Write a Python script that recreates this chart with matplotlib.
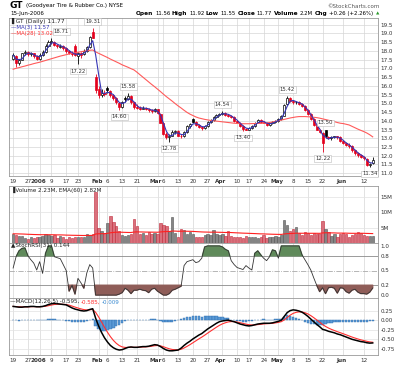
import numpy as np
import pandas as pd
import matplotlib.pyplot as plt
from matplotlib.transforms import ScaledTranslation

# daily OHLC for GT, 19-Dec-2005 .. 15-Jun-2006 (123 trading days)
opens = [17.55, 17.70, 17.30, 17.50, 17.85, 17.95, 17.80, 17.85, 17.70, 17.55,
         17.75, 17.95, 18.30, 18.50, 18.50, 18.35, 18.20, 18.30, 18.15, 18.00,
         17.90, 18.30, 17.70, 17.85, 17.80, 18.00, 18.20, 19.10, 16.50, 15.80,
         15.50, 15.60, 15.90, 15.70, 15.45, 15.30, 15.00, 14.80, 15.30, 15.25,
         15.40, 15.05, 14.80, 14.75, 14.70, 14.75, 14.70, 14.60, 14.55, 14.65,
         14.40, 13.90, 13.25, 13.05, 13.15, 13.35, 13.40, 13.15, 13.10, 13.35,
         13.70, 14.10, 13.95, 13.75, 13.65, 13.60, 13.70, 13.95, 14.05, 14.20,
         14.35, 14.40, 14.45, 14.35, 14.30, 14.20, 14.00, 13.90, 13.70, 13.55,
         13.50, 13.60, 13.70, 13.95, 14.05, 13.95, 13.90, 13.75, 13.85, 13.95,
         14.00, 14.10, 14.30, 14.95, 15.30, 15.15, 15.05, 15.10, 14.95, 14.85,
         14.60, 14.40, 14.10, 13.75, 13.50, 13.30, 13.45, 13.10, 13.00, 13.05,
         13.10, 13.05, 12.85, 12.75, 12.60, 12.55, 12.30, 12.15, 12.05, 11.95,
         11.80, 11.45, 11.56]
highs = [17.85, 17.75, 17.55, 17.90, 18.05, 18.00, 17.95, 17.90, 17.75, 17.85,
         18.05, 18.40, 18.60, 18.71, 18.55, 18.40, 18.40, 18.35, 18.20, 18.05,
         18.00, 18.40, 17.95, 17.95, 18.10, 18.30, 18.85, 19.31, 16.70, 16.00,
         15.80, 15.75, 16.00, 15.75, 15.50, 15.35, 15.05, 15.15, 15.40, 15.58,
         15.45, 15.10, 14.95, 14.85, 14.85, 14.80, 14.75, 14.70, 14.75, 14.70,
         14.45, 13.95, 13.35, 13.25, 13.45, 13.45, 13.45, 13.25, 13.40, 13.75,
         13.85, 14.15, 14.00, 13.80, 13.70, 13.75, 14.00, 14.10, 14.25, 14.40,
         14.45, 14.54, 14.50, 14.40, 14.35, 14.25, 14.05, 13.95, 13.75, 13.60,
         13.65, 13.75, 13.95, 14.10, 14.10, 14.00, 13.95, 13.90, 14.00, 14.05,
         14.15, 14.35, 14.95, 15.42, 15.35, 15.20, 15.15, 15.15, 15.00, 14.90,
         14.65, 14.45, 14.15, 13.80, 13.55, 13.35, 13.50, 13.15, 13.10, 13.15,
         13.15, 13.10, 12.90, 12.80, 12.70, 12.60, 12.35, 12.20, 12.10, 12.00,
         11.85, 11.60, 11.92]
lows = [17.45, 17.10, 17.20, 17.45, 17.75, 17.70, 17.70, 17.60, 17.45, 17.50,
        17.70, 17.90, 18.20, 18.40, 18.25, 18.15, 18.15, 18.05, 17.90, 17.80,
        17.70, 17.70, 17.22, 17.60, 17.75, 17.95, 18.15, 18.75, 15.60, 15.30,
        15.35, 15.40, 15.60, 15.35, 15.20, 14.95, 14.60, 14.75, 15.05, 15.20,
        14.95, 14.70, 14.65, 14.60, 14.65, 14.60, 14.50, 14.45, 14.50, 14.40,
        13.85, 13.20, 12.95, 12.78, 13.10, 13.25, 13.10, 13.00, 13.05, 13.30,
        13.60, 13.85, 13.70, 13.60, 13.50, 13.55, 13.65, 13.90, 14.00, 14.15,
        14.30, 14.35, 14.30, 14.20, 14.15, 13.95, 13.85, 13.65, 13.40, 13.45,
        13.45, 13.55, 13.65, 13.90, 13.90, 13.85, 13.70, 13.70, 13.80, 13.90,
        13.95, 14.05, 14.25, 14.90, 15.05, 14.95, 14.95, 14.90, 14.80, 14.55,
        14.35, 14.05, 13.70, 13.45, 13.30, 12.22, 13.00, 12.95, 12.90, 13.00,
        12.95, 12.80, 12.65, 12.55, 12.45, 12.20, 12.05, 11.95, 11.85, 11.75,
        11.40, 11.34, 11.55]
closes = [17.75, 17.30, 17.45, 17.85, 17.95, 17.80, 17.85, 17.70, 17.55, 17.75,
          17.95, 18.30, 18.50, 18.55, 18.35, 18.25, 18.30, 18.15, 18.00, 17.90,
          17.80, 17.75, 17.85, 17.75, 18.00, 18.20, 18.80, 18.75, 15.75, 15.50,
          15.60, 15.55, 15.75, 15.45, 15.30, 15.05, 14.80, 15.10, 15.25, 15.40,
          15.05, 14.80, 14.75, 14.70, 14.75, 14.70, 14.60, 14.55, 14.65, 14.45,
          13.90, 13.25, 13.05, 13.10, 13.35, 13.40, 13.15, 13.10, 13.35, 13.70,
          13.80, 13.95, 13.75, 13.65, 13.60, 13.70, 13.95, 14.05, 14.20, 14.35,
          14.40, 14.45, 14.35, 14.30, 14.20, 14.00, 13.90, 13.70, 13.55, 13.50,
          13.60, 13.70, 13.90, 14.05, 13.95, 13.90, 13.75, 13.85, 13.95, 14.00,
          14.10, 14.30, 14.90, 15.30, 15.15, 15.05, 15.10, 14.95, 14.85, 14.60,
          14.40, 14.10, 13.75, 13.50, 13.35, 12.75, 13.10, 13.00, 13.05, 13.10,
          13.05, 12.85, 12.75, 12.60, 12.55, 12.30, 12.15, 12.05, 11.95, 11.85,
          11.45, 11.51, 11.77]
ma28 = [16.95, 17.00, 17.04, 17.09, 17.13, 17.18, 17.22, 17.27, 17.31, 17.35,
        17.40, 17.45, 17.50, 17.55, 17.60, 17.65, 17.70, 17.74, 17.78, 17.82,
        17.86, 17.89, 17.92, 17.95, 17.98, 18.00, 18.03, 18.05, 17.94, 17.86,
        17.78, 17.70, 17.62, 17.53, 17.45, 17.37, 17.29, 17.20, 17.13, 17.06,
        16.98, 16.91, 16.78, 16.64, 16.50, 16.36, 16.22, 16.08, 15.95, 15.81,
        15.67, 15.52, 15.38, 15.25, 15.12, 14.98, 14.85, 14.73, 14.60, 14.48,
        14.38, 14.30, 14.22, 14.16, 14.12, 14.08, 14.05, 14.02, 14.00, 13.98,
        13.96, 13.94, 13.92, 13.90, 13.88, 13.86, 13.85, 13.84, 13.83, 13.83,
        13.83, 13.84, 13.84, 13.85, 13.85, 13.86, 13.87, 13.90, 13.93, 13.97,
        14.00, 14.04, 14.08, 14.12, 14.16, 14.19, 14.22, 14.24, 14.24, 14.24,
        14.23, 14.22, 14.20, 14.18, 14.15, 14.11, 14.07, 14.03, 13.99, 13.95,
        13.90, 13.86, 13.84, 13.80, 13.76, 13.68, 13.60, 13.52, 13.45, 13.38,
        13.30, 13.20, 13.08]
volume = [3.0, 2.6, 2.2, 2.3, 1.7, 1.3, 1.8, 1.5, 2.0, 1.9,
          2.3, 3.0, 2.6, 2.2, 2.5, 1.6, 2.4, 1.9, 1.2, 2.0,
          1.6, 2.0, 2.1, 1.8, 1.9, 2.8, 2.6, 3.0, 16.5, 5.0,
          3.8, 3.2, 6.5, 8.7, 7.0, 5.5, 4.0, 2.6, 2.4, 2.5,
          3.0, 7.8, 5.5, 2.8, 3.2, 2.6, 3.5, 3.0, 3.2, 3.1,
          6.5, 5.9, 5.5, 3.9, 8.5, 3.3, 2.0, 4.6, 4.3, 2.8,
          3.5, 2.8, 2.0, 1.8, 2.0, 2.5, 3.0, 2.6, 4.2, 2.9,
          2.6, 2.8, 2.3, 4.0, 2.2, 1.8, 1.9, 2.0, 1.7, 2.4,
          2.1, 1.9, 2.0, 1.5, 1.8, 2.5, 1.6, 2.0, 1.8, 2.2,
          2.1, 2.5, 7.5, 6.0, 4.0, 4.5, 5.2, 3.2, 2.5, 3.5,
          3.2, 2.5, 3.3, 3.0, 2.8, 7.2, 4.7, 3.5, 2.2, 3.0,
          1.8, 2.8, 3.3, 2.9, 2.0, 2.6, 3.1, 3.6, 3.4, 2.5,
          2.2, 2.3, 2.23]
stoch_rsi = [0.55, 0.78, 0.90, 0.95, 0.96, 0.80, 0.72, 0.65, 0.51, 0.68,
             0.44, 0.85, 1.00, 1.00, 0.78, 0.76, 0.74, 0.62, 0.50, 0.08,
             0.20, 0.02, 0.34, 0.25, 0.14, 0.45, 0.62, 0.55, 0.00, 0.00,
             0.00, 0.00, 0.00, 0.00, 0.00, 0.00, 0.02, 0.05, 0.14, 0.10,
             0.03, 0.10, 0.10, 0.12, 0.10, 0.09, 0.05, 0.12, 0.14, 0.08,
             0.04, 0.00, 0.00, 0.03, 0.10, 0.12, 0.15, 0.18, 0.60, 0.68,
             0.70, 0.72, 0.66, 0.68, 0.75, 0.98, 1.00, 1.00, 1.00, 1.00,
             1.00, 0.98, 0.93, 0.90, 0.70, 0.62, 0.56, 0.54, 0.52, 0.60,
             0.55, 0.51, 0.85, 0.90, 0.82, 0.75, 0.70, 0.78, 0.92, 0.90,
             0.75, 1.00, 1.00, 1.00, 1.00, 1.00, 1.00, 1.00, 0.82, 0.72,
             0.62, 0.51, 0.35, 0.20, 0.07, 0.15, 0.03, 0.15, 0.16, 0.14,
             0.04, 0.15, 0.14, 0.07, 0.04, 0.10, 0.12, 0.06, 0.03, 0.03,
             0.02, 0.06, 0.144]
macd = [0.36, 0.35, 0.34, 0.34, 0.35, 0.35, 0.36, 0.36, 0.35, 0.35,
        0.36, 0.38, 0.41, 0.43, 0.44, 0.43, 0.42, 0.41, 0.40, 0.36,
        0.32, 0.29, 0.27, 0.25, 0.24, 0.25, 0.28, 0.30, 0.05, -0.15,
        -0.32, -0.46, -0.57, -0.66, -0.72, -0.76, -0.78, -0.77, -0.74, -0.71,
        -0.70, -0.71, -0.71, -0.70, -0.69, -0.69, -0.68, -0.66, -0.64, -0.65,
        -0.69, -0.74, -0.78, -0.80, -0.80, -0.79, -0.78, -0.73, -0.66, -0.60,
        -0.55, -0.49, -0.44, -0.39, -0.35, -0.29, -0.23, -0.18, -0.13, -0.08,
        -0.04, -0.02, -0.01, 0.00, -0.02, -0.04, -0.07, -0.10, -0.12, -0.14,
        -0.15, -0.14, -0.12, -0.10, -0.09, -0.08, -0.08, -0.08, -0.07, -0.05,
        -0.03, 0.00, 0.10, 0.20, 0.25, 0.27, 0.26, 0.24, 0.21, 0.16,
        0.10, 0.03, -0.04, -0.11, -0.17, -0.24, -0.26, -0.29, -0.31, -0.33,
        -0.36, -0.38, -0.41, -0.44, -0.47, -0.50, -0.52, -0.54, -0.56, -0.57,
        -0.59, -0.60, -0.595]

tick_pos = [0, 5, 9, 13, 18, 22, 29, 32, 37, 42, 49, 51, 56, 61, 66, 71,
            76, 80, 85, 90, 95, 100, 105, 112, 119]
tick_lab = ['19', '27', '2006', '9', '17', '23', 'Feb', '6', '13', '21', 'Mar',
            '6', '13', '20', '27', 'Apr', '10', '17', '24', 'May', '8', '15',
            '22', 'Jun', '12']
bold_lab = ['2006', 'Feb', 'Mar', 'Apr', 'May', 'Jun']

# swing high / low labels on the price panel
swing_idx = [13, 22, 27, 36, 39, 53, 71, 78, 93, 106, 105, 121]
swing_val = [18.71, 17.22, 19.31, 14.60, 15.58, 12.78, 14.54, 13.40, 15.42, 13.50, 12.22, 11.34]
swing_top = [True, False, True, False, True, False, True, False, True, True, False, False]
swing_dx = [7, 0, 0, 0, 0, 0, 0, 0, 0, 0, 0, 0]

# indicators
x = np.arange(len(closes))
o = np.array(opens)
h = np.array(highs)
l = np.array(lows)
c = np.array(closes)
prev = np.r_[c[0], c[:-1]]
up = c >= prev
ma3 = pd.Series(c).rolling(3, min_periods=1).mean()
vol_ema = pd.Series(volume).ewm(span=60, adjust=False).mean()
signal = pd.Series(macd).ewm(span=5, adjust=False).mean()
hist = np.array(macd) - signal.values

RED = '#e4001c'
W, H = 400, 365
XL, XR = 9, 378
FS = 4.1


def box(top, bottom):
    return [XL / W, 1 - bottom / H, (XR - XL) / W, (bottom - top) / H]


fig = plt.figure(figsize=(4, 3.65), dpi=100)
ax_p = fig.add_axes(box(18, 176))
ax_v = fig.add_axes(box(186, 243))
ax_s = fig.add_axes(box(243, 298))
ax_m = fig.add_axes(box(298, 355))

shift_left = ScaledTranslation(-1.5 / 100, 0, fig.dpi_scale_trans)
for ax in [ax_p, ax_v, ax_s, ax_m]:
    ax.set_xlim(-1.4, 123.8)
    for sp in ax.spines.values():
        sp.set_color('#999999')
        sp.set_linewidth(0.6)
    ax.yaxis.tick_right()
    ax.tick_params(axis='y', length=0, labelsize=FS, pad=2, colors='#333333')
    ax.tick_params(axis='x', length=0, labelsize=FS, pad=2, colors='#333333')
    ax.set_xticks(tick_pos)
    ax.set_xticklabels(tick_lab)
    for t in ax.get_xticklabels():
        if t.get_text() in bold_lab:
            t.set_fontweight('bold')
            t.set_transform(t.get_transform() + shift_left)
    ax.grid(axis='x', color='#d6d6d6', lw=0.5)
    ax.set_axisbelow(True)

for ax in [ax_v, ax_s]:
    ax.tick_params(axis='x', labelbottom=False)

# ---- price panel
ax_p.set_ylim(10.84, 19.88)
ax_p.set_yticks(np.arange(11.0, 19.51, 0.5))
ax_p.set_yticklabels(['%.1f' % v for v in np.arange(11.0, 19.51, 0.5)])
ax_p.grid(axis='y', color='#d6d6d6', lw=0.5)
cols = np.where(up, 'black', RED)
faces = np.where(c > o, 'white', cols)
ax_p.vlines(x, l, h, colors=cols, lw=0.6, zorder=2)
ax_p.bar(x, np.maximum(np.abs(c - o), 0.04), bottom=np.minimum(o, c), width=0.7,
         color=faces, edgecolor=cols, lw=0.5, zorder=3)
ax_p.plot(x, ma28, color='#ff5a5a', lw=0.8, zorder=4)
ax_p.plot(x, ma3, color='#3535b5', lw=0.8, zorder=5)
for i, v, top, dx in zip(swing_idx, swing_val, swing_top, swing_dx):
    ax_p.annotate('%.2f' % v, (i, v), xytext=(dx, 3 if top else -3),
                  textcoords='offset points', ha='center',
                  va='bottom' if top else 'top', fontsize=3.9, color='#333333',
                  bbox=dict(boxstyle='square,pad=0.15', fc='white', ec='#bbbbbb', lw=0.4),
                  zorder=6)
ax_p.text(0.006, 0.983, '\u258cGT (Daily) 11.77', transform=ax_p.transAxes,
          fontsize=4.3, va='center', color='#222222')
ax_p.text(0.006, 0.941, '\u2014MA(3) 11.57', transform=ax_p.transAxes,
          fontsize=3.9, va='center', color='#3535b5')
ax_p.text(0.006, 0.903, '\u2014MA(28) 13.02', transform=ax_p.transAxes,
          fontsize=3.9, va='center', color='#ff3030')

# ---- volume panel
vcol = np.where(up, '#858585', '#d9707c')
vedge = np.where(up, '#555555', '#c02838')
ax_v.set_ylim(0, 18.6)
ax_v.set_yticks([5, 10, 15])
ax_v.set_yticklabels(['5M', '10M', '15M'])
ax_v.grid(axis='y', color='#e2e2e2', lw=0.5)
ax_v.bar(x, volume, width=0.8, color=vcol, edgecolor=vedge, lw=0.4, zorder=2)
ax_v.plot(x, vol_ema, color='#ff2020', lw=0.8, zorder=3)
ax_v.text(0.006, 0.93, '\u2590Volume 2.23M, EMA(60) 2.82M', transform=ax_v.transAxes,
          fontsize=FS, va='center', color='#222222')

# ---- StochRSI panel
sr = np.array(stoch_rsi)
ax_s.set_ylim(-0.06, 1.06)
ax_s.set_yticks([0.0, 0.2, 0.5, 0.8, 1.0])
ax_s.set_yticklabels(['0.0', '0.2', '0.5', '0.8', '1.0'])
ax_s.fill_between(x, sr, 0.8, where=sr > 0.8, interpolate=True, color='#5f8a5a', zorder=2)
ax_s.fill_between(x, sr, 0.2, where=sr < 0.2, interpolate=True, color='#8f5d58', zorder=2)
ax_s.axhline(0.8, color='#8a8a8a', lw=0.6, zorder=1)
ax_s.axhline(0.2, color='#8a8a8a', lw=0.6, zorder=1)
ax_s.axhline(0.5, color='#aaaaaa', lw=0.6, ls='-.', zorder=1)
ax_s.plot(x, sr, color='#333333', lw=0.6, zorder=3)
ax_s.text(0.006, 0.95, '\u25b2StochRSI(31) 0.144', transform=ax_s.transAxes,
          fontsize=FS, va='center', color='#222222')

# ---- MACD panel
ax_m.set_ylim(-0.91, 0.58)
ax_m.set_yticks([0.25, 0.0, -0.25, -0.5, -0.75])
ax_m.set_yticklabels(['0.25', '0.00', '-0.25', '-0.50', '-0.75'])
ax_m.grid(axis='y', color='#e2e2e2', lw=0.5)
ax_m.bar(x, hist, width=0.8, color='#5b9ad6', edgecolor='#2f6fb0', lw=0.3, zorder=2)
ax_m.plot(x, signal, color='#ff3030', lw=0.8, zorder=3)
ax_m.plot(x, macd, color='black', lw=1.1, zorder=4)

fig.canvas.draw()
renderer = fig.canvas.get_renderer()


def text_row(parts, x0, y0, gap=2.0):
    # place texts one after another, left to right, in figure pixels
    px = x0
    for txt, kw in parts:
        t = fig.text(px / W, 1 - y0 / H, txt, va='center', **kw)
        bb = t.get_window_extent(renderer)
        px = bb.x1 + gap
    return px


text_row([('\u2014MACD(12,26,5) -0.595,', dict(fontsize=FS, color='#222222')),
          ('-0.585,', dict(fontsize=FS, color='#ff3030')),
          ('-0.009', dict(fontsize=FS, color='#3a8ad0'))], 10, 302, gap=1.5)

# ---- header
text_row([('GT', dict(fontsize=6.5, weight='bold')),
          ('(Goodyear Tire & Rubber Co.) NYSE', dict(fontsize=4.0))], 10, 6, gap=2)
fig.text(380 / W, 1 - 6 / H, '\u00a9StockCharts.com', fontsize=4.0, ha='right', va='center',
         color='#555555')
fig.text(10 / W, 1 - 13.5 / H, '15-Jun-2006', fontsize=4.0, va='center')
hdr = [('Open', True), ('11.56', False), ('High', True), ('11.92', False),
       ('Low', True), ('11.55', False), ('Close', True), ('11.77', False),
       ('Volume', True), ('2.2M', False), ('Chg', True), ('+0.26 (+2.26%)', False)]
end = text_row([(t, dict(fontsize=4.2 if b else 3.9, weight='bold' if b else 'normal'))
                for t, b in hdr], 136, 13.5, gap=1.6)
fig.text((end + 1) / W, 1 - 13.5 / H, '\u25b2', fontsize=3.2, va='center', color='#2a9a2a')

fig.savefig('out.png', dpi=100)
